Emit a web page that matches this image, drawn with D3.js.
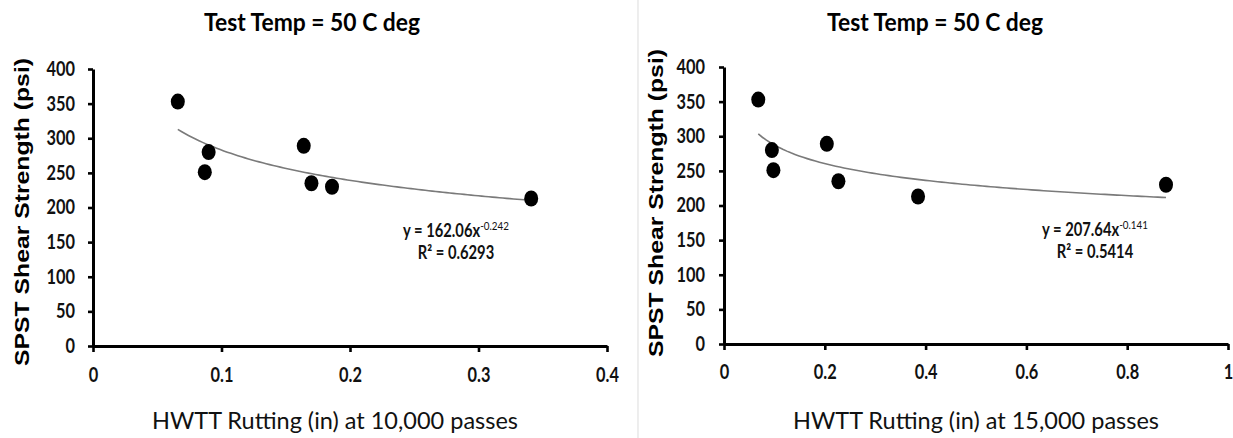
<!DOCTYPE html>
<html>
<head>
<meta charset="utf-8">
<script src="https://cdn.jsdelivr.net/npm/d3@7"></script>
<style>
  html, body { margin: 0; padding: 0; background: #fff; }
  svg { display: block; }
  .tick text { font-family: Lato, "Open Sans", sans-serif; font-size: 20px; font-weight: 700; fill: #111; }
</style>
</head>
<body>
<svg id="chart" width="1233" height="438"></svg>
<script>
// Shear strength of the same seven mixes, plotted against rutting at two pass counts
const shearStrength = [353, 280, 251, 289, 235, 230, 213];
const rut10k = [0.066, 0.090, 0.087, 0.164, 0.170, 0.186, 0.341];
const rut15k = [0.068, 0.095, 0.098, 0.204, 0.227, 0.877, 0.385];

// Power-law fits y = a * x^b reported for each panel
const fit10k = { a: 162.06, b: -0.242, r2: "0.6293" };
const fit15k = { a: 207.64, b: -0.141, r2: "0.5414" };

const yTicks = [0, 50, 100, 150, 200, 250, 300, 350, 400];
const xTicks10k = [0, 0.1, 0.2, 0.3, 0.4];
const xTicks15k = [0, 0.2, 0.4, 0.6, 0.8, 1];

const titleText = "Test Temp = 50 C deg";
const yTitle = "SPST Shear Strength (psi)";
const xTitle10k = "HWTT Rutting (in) at 10,000 passes";
const xTitle15k = "HWTT Rutting (in) at 15,000 passes";

const NARROW = 0.82; // horizontal squeeze applied to label glyphs

const svg = d3.select("#chart");

// faint divider between the two panels
svg.append("line")
  .attr("x1", 638).attr("x2", 638).attr("y1", 0).attr("y2", 438)
  .attr("stroke", "#e2e2e2").attr("stroke-width", 1.2);

function squeezeTicks(axisG) {
  axisG.selectAll(".tick text").each(function () {
    const t = d3.select(this);
    const x0 = +t.attr("x") || 0;
    t.attr("x", x0 / NARROW).attr("transform", `scale(${NARROW},1)`);
  });
}

function panel(opt) {
  const g = svg.append("g");
  const x = d3.scaleLinear().domain(opt.xDomain).range(opt.xRange);
  const y = d3.scaleLinear().domain([0, 400]).range(opt.yRange);

  // y axis
  const yAxis = g.append("g")
    .attr("transform", `translate(${opt.xRange[0]},0)`)
    .call(d3.axisLeft(y).tickValues(yTicks).tickFormat(d3.format("d"))
      .tickSize(5).tickSizeOuter(0).tickPadding(opt.yPad));
  // x axis
  const xAxis = g.append("g")
    .attr("transform", `translate(0,${opt.yRange[0]})`)
    .call(d3.axisBottom(x).tickValues(opt.xTicks).tickFormat(d => d3.format("")(+d.toFixed(1)))
      .tickSize(6).tickSizeOuter(0).tickPadding(opt.xPad));

  [yAxis, xAxis].forEach(a => {
    a.select(".domain").attr("stroke", "#000").attr("stroke-width", 3);
    a.selectAll(".tick line").attr("stroke", "#000").attr("stroke-width", 2.6);
    squeezeTicks(a);
  });

  // fitted power curve across the data span
  const xs = opt.xs;
  const lo = d3.min(xs), hi = d3.max(xs);
  const curve = d3.range(0, 101).map(i => {
    const xv = lo + (hi - lo) * i / 100;
    return [xv, opt.fit.a * Math.pow(xv, opt.fit.b)];
  });
  g.append("path")
    .datum(curve)
    .attr("fill", "none")
    .attr("stroke", "#7a7a7a")
    .attr("stroke-width", 1.6)
    .attr("d", d3.line().x(d => x(d[0])).y(d => y(d[1])));

  // observations
  g.selectAll("ellipse.pt")
    .data(xs.map((v, i) => [v, shearStrength[i]]))
    .join("ellipse")
    .attr("class", "pt")
    .attr("cx", d => x(d[0]))
    .attr("cy", d => y(d[1]))
    .attr("rx", 7)
    .attr("ry", 8)
    .attr("fill", "#000");

  // equation label
  const eqG = g.append("g")
    .attr("transform", `translate(${opt.eqX},${opt.eqY}) scale(${NARROW},1)`)
    .style("font-family", "Lato, sans-serif")
    .style("font-weight", 700)
    .style("fill", "#111");
  const eq = eqG.append("text")
    .attr("text-anchor", "middle")
    .style("font-size", "18px");
  eq.append("tspan").text(`y = ${opt.fit.a.toFixed(2)}x`);
  eq.append("tspan").attr("dy", -7).style("font-size", "12px").style("font-weight", 400).text(`${opt.fit.b}`);
  eqG.append("text")
    .attr("y", 22)
    .attr("text-anchor", "middle")
    .style("font-size", "18px")
    .text(`R\u00B2 = ${opt.fit.r2}`);

  // titles
  g.append("text")
    .attr("x", opt.titleX).attr("y", 31)
    .attr("text-anchor", "middle")
    .attr("textLength", 216).attr("lengthAdjust", "spacingAndGlyphs")
    .style("font-family", "Lato, sans-serif")
    .style("font-weight", 700)
    .style("font-size", "24px")
    .text(titleText);

  g.append("text")
    .attr("transform", `translate(${opt.yTitleX},${opt.yTitleY}) rotate(-90)`)
    .attr("text-anchor", "middle")
    .attr("textLength", 308).attr("lengthAdjust", "spacingAndGlyphs")
    .style("font-family", "'Liberation Sans', Arial, sans-serif")
    .style("font-weight", 700)
    .style("font-size", "21px")
    .text(yTitle);

  g.append("text")
    .attr("x", opt.xTitleX).attr("y", 429)
    .attr("text-anchor", "middle")
    .attr("textLength", 366).attr("lengthAdjust", "spacingAndGlyphs")
    .style("font-family", "Lato, sans-serif")
    .style("font-size", "23px")
    .style("fill", "#111")
    .text(opt.xTitle);
}

panel({
  xDomain: [0, 0.4], xRange: [93, 607], yRange: [346, 69],
  xTicks: xTicks10k, xs: rut10k, fit: fit10k,
  yPad: 13, xPad: 16,
  eqX: 456, eqY: 237,
  titleX: 312, yTitleX: 29, yTitleY: 212,
  xTitleX: 335, xTitle: xTitle10k
});

panel({
  xDomain: [0, 1], xRange: [724, 1228], yRange: [344, 67],
  xTicks: xTicks15k, xs: rut15k, fit: fit15k,
  yPad: 14, xPad: 15,
  eqX: 1095, eqY: 236,
  titleX: 935, yTitleX: 663, yTitleY: 203,
  xTitleX: 976, xTitle: xTitle15k
});
</script>
</body>
</html>
